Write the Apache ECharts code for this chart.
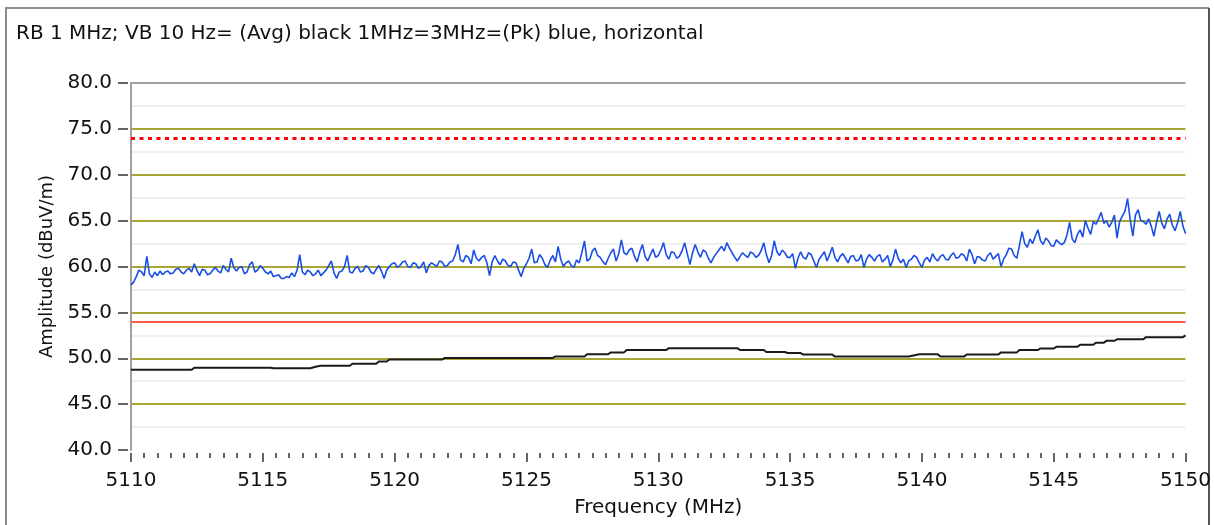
<!DOCTYPE html>
<html>
<head>
<meta charset="utf-8">
<title>RB 1 MHz; VB 10 Hz</title>
<script src="https://cdn.jsdelivr.net/npm/echarts@6/dist/echarts.min.js"></script>
<style>
  html, body { margin: 0; padding: 0; background: #ffffff; }
  #chart { width: 1214px; height: 525px; }
</style>
</head>
<body>
<div id="chart"></div>
<script>
// Plot title and axis names
const chartTitle = 'RB 1 MHz; VB 10 Hz= (Avg) black 1MHz=3MHz=(Pk) blue, horizontal';
const xName = 'Frequency (MHz)';
const yName = 'Amplitude (dBuV/m)';

// Axis ranges (MHz, dBuV/m)
const freqMin = 5110, freqMax = 5150, freqStep = 5;
const ampMin = 40, ampMax = 80, ampStep = 5;

// Limit lines: peak limit (dotted) and average limit (solid)
const peakLimit = 74;
const avgLimit = 54;

// Peak trace (blue), one reading every 0.1 MHz starting at 5110 MHz (one row per MHz)
const peakStart = 5110;
const peakSpacing = 0.1;
const peakValues = [
  58.0, 58.3, 58.9, 59.6, 59.4, 59.0, 61.1, 59.2, 58.8, 59.4,
  59.0, 59.5, 59.1, 59.4, 59.5, 59.2, 59.3, 59.7, 59.8, 59.4,
  59.2, 59.6, 59.8, 59.4, 60.3, 59.6, 59.0, 59.7, 59.6, 59.1,
  59.2, 59.6, 59.9, 59.5, 59.3, 60.1, 59.7, 59.4, 60.9, 59.9,
  59.5, 59.9, 60.0, 59.2, 59.4, 60.2, 60.5, 59.4, 59.6, 60.1,
  59.8, 59.4, 59.2, 59.5, 58.9, 59.0, 59.1, 58.7, 58.7, 58.9,
  58.8, 59.3, 58.9, 59.6, 61.3, 59.4, 59.1, 59.6, 59.4, 59.0,
  59.2, 59.6, 59.0, 59.3, 59.6, 60.1, 60.6, 59.3, 58.7, 59.4,
  59.5, 60.0, 61.2, 59.4, 59.3, 59.8, 60.0, 59.4, 59.5, 60.1,
  59.9, 59.4, 59.2, 59.7, 60.1, 59.5, 58.7, 59.6, 60.0, 60.3,
  60.4, 59.9, 60.1, 60.5, 60.6, 60.0, 59.9, 60.4, 60.3, 59.8,
  60.0, 60.5, 59.3, 60.1, 60.4, 60.2, 60.0, 60.6, 60.5, 60.0,
  60.1, 60.5, 60.6, 61.3, 62.4, 60.7, 60.5, 61.2, 61.0, 60.3,
  61.8, 60.9, 60.6, 61.0, 61.2, 60.4, 59.0, 60.5, 61.2, 60.6,
  60.2, 60.8, 60.6, 60.1, 60.0, 60.5, 60.4, 59.6, 58.9, 59.8,
  60.3, 60.9, 61.9, 60.4, 60.5, 61.3, 60.9, 60.2, 59.9, 60.7,
  61.2, 60.5, 62.2, 60.8, 60.0, 60.4, 60.6, 60.1, 59.9, 60.7,
  60.4, 61.5, 62.8, 60.6, 60.8, 61.7, 62.0, 61.2, 61.0, 60.5,
  60.2, 60.9, 61.5, 61.9, 60.6, 61.4, 62.9, 61.5, 61.3, 61.8,
  62.0, 61.1, 60.5, 61.6, 62.4, 61.1, 60.6, 61.3, 61.9, 61.0,
  61.2, 61.8, 62.6, 61.3, 60.8, 61.6, 61.5, 60.9, 61.1, 61.7,
  62.6, 61.4, 60.2, 61.5, 62.4, 61.6, 61.0, 61.8, 61.6, 60.9,
  60.4, 61.0, 61.4, 61.8, 62.2, 61.7, 62.6, 62.0, 61.5, 61.0,
  60.6, 61.1, 61.5, 61.2, 61.0, 61.6, 61.4, 61.0, 61.2, 61.7,
  62.6, 61.3, 60.4, 61.2, 62.8, 61.6, 61.2, 61.8, 61.5, 61.0,
  61.0, 61.4, 59.8, 60.9, 61.6, 61.0, 60.8, 61.5, 61.3, 60.6,
  59.9, 60.8, 61.2, 61.6, 60.6, 61.3, 62.1, 61.0, 60.5, 61.1,
  61.4, 60.9, 60.4, 61.1, 61.2, 60.6, 60.7, 61.3, 59.9, 60.8,
  61.3, 61.0, 60.6, 61.1, 61.3, 60.5, 60.8, 61.2, 60.0, 60.7,
  61.9, 60.9, 60.4, 60.8, 59.9, 60.6, 60.8, 61.2, 61.0, 60.4,
  59.9, 60.7, 61.0, 60.5, 61.4, 60.9, 60.6, 61.1, 61.3, 60.8,
  60.7, 61.2, 61.5, 60.9, 61.0, 61.4, 61.2, 60.6, 61.9, 61.3,
  60.3, 61.1, 61.0, 60.7, 60.6, 61.2, 61.5, 60.8, 61.1, 61.4,
  60.0, 60.8, 61.3, 62.0, 61.9, 61.2, 60.9, 62.3, 63.8, 62.5,
  62.1, 63.0, 62.5, 63.3, 64.0, 62.8, 62.4, 63.1, 62.8, 62.3,
  62.2, 62.9, 62.6, 62.4, 62.6, 63.4, 64.8, 63.0, 62.6, 63.5,
  64.0, 63.2, 65.0, 64.2, 63.5, 64.9, 64.6, 65.2, 65.9, 64.7,
  65.0, 64.3, 64.8, 65.6, 63.1, 64.9, 65.5, 66.0, 67.4, 65.1,
  63.3, 65.6, 66.2, 65.0, 64.9, 64.6, 65.2, 64.4, 63.3, 64.8,
  66.0, 64.7, 64.1, 65.2, 65.7, 64.5, 63.9, 64.8, 66.0, 64.4,
  63.6
];

// Average trace (black): frequency / level pairs
const avgFreq = [
  5110.0, 5112.3, 5112.4, 5115.3, 5115.4, 5116.8, 5117.0, 5117.2, 5118.3, 5118.4,
  5119.3, 5119.4, 5119.7, 5119.8, 5121.8, 5121.9, 5126.0, 5126.1, 5127.2, 5127.3,
  5128.1, 5128.2, 5128.7, 5128.8, 5130.3, 5130.4, 5133.0, 5133.1, 5134.0, 5134.1,
  5134.8, 5134.9, 5135.4, 5135.5, 5136.6, 5136.7, 5139.5, 5139.9, 5140.6, 5140.7,
  5141.6, 5141.7, 5142.9, 5143.0, 5143.6, 5143.7, 5144.4, 5144.5, 5145.0, 5145.1,
  5145.9, 5146.0, 5146.5, 5146.6, 5146.9, 5147.0, 5147.3, 5147.4, 5148.4, 5148.5,
  5149.9, 5150.0
];
const avgLevel = [
  48.75, 48.75, 48.96, 48.96, 48.92, 48.92, 49.07, 49.18, 49.18, 49.40,
  49.40, 49.64, 49.64, 49.86, 49.86, 50.04, 50.04, 50.20, 50.20, 50.43,
  50.43, 50.64, 50.64, 50.90, 50.90, 51.10, 51.10, 50.90, 50.90, 50.68,
  50.68, 50.57, 50.57, 50.40, 50.40, 50.18, 50.18, 50.43, 50.43, 50.18,
  50.18, 50.40, 50.40, 50.64, 50.64, 50.90, 50.90, 51.07, 51.07, 51.25,
  51.25, 51.46, 51.46, 51.70, 51.70, 51.90, 51.90, 52.07, 52.07, 52.30,
  52.30, 52.50
];

const peakData = peakValues.map((v, i) => [+(peakStart + i * peakSpacing).toFixed(2), v]);
const avgData = avgFreq.map((f, i) => [f, avgLevel[i]]);

const FONT = 'DejaVu Sans';
const OLIVE = '#aaa636';
const chart = echarts.init(document.getElementById('chart'), null, { renderer: 'canvas' });

chart.setOption({
  backgroundColor: '#ffffff',
  animation: false,
  title: {
    text: chartTitle,
    left: 11,
    top: 19,
    textStyle: { fontFamily: FONT, fontSize: 20, fontWeight: 'normal', color: '#111' }
  },
  graphic: [
    { type: 'polyline', shape: { points: [[6, 530], [6, 8], [1209, 8]] },
      style: { stroke: '#8c8c8c', lineWidth: 2, fill: null } },
    { type: 'line', shape: { x1: 1209, y1: 8, x2: 1209, y2: 530 },
      style: { stroke: '#555555', lineWidth: 2 } }
  ],
  grid: { left: 131, right: 28, top: 83, bottom: 75, containLabel: false },
  xAxis: {
    type: 'value',
    min: freqMin, max: freqMax, interval: freqStep,
    offset: 3,
    name: xName,
    nameLocation: 'middle',
    nameGap: 45,
    nameTextStyle: { fontFamily: FONT, fontSize: 20, color: '#111' },
    axisLine: { show: false },
    axisTick: { show: true, length: 9, lineStyle: { color: '#333', width: 1.5 } },
    minorTick: { show: true, splitNumber: 10, length: 5, lineStyle: { color: '#333', width: 1.5 } },
    splitLine: { show: false },
    axisLabel: { fontFamily: FONT, fontSize: 20, color: '#111', margin: 18, formatter: v => String(v) }
  },
  yAxis: [
    {
      type: 'value',
      min: ampMin, max: ampMax, interval: ampStep,
      offset: 3,
      name: yName,
      nameLocation: 'middle',
      nameGap: 72,
      nameTextStyle: { fontFamily: FONT, fontSize: 18, color: '#111' },
      axisLine: { show: false },
      axisTick: { show: true, length: 10, lineStyle: { color: '#333', width: 1.5 } },
      axisLabel: {
        fontFamily: FONT, fontSize: 20, color: '#111', margin: 16,
        formatter: v => v.toFixed(1)
      },
      splitLine: {
        show: true,
        lineStyle: {
          width: 2,
          color: ['rgba(0,0,0,0)', OLIVE, OLIVE, OLIVE, OLIVE, OLIVE, OLIVE, OLIVE, '#a0a0a0']
        }
      },
      minorTick: { show: false, splitNumber: 2 },
      minorSplitLine: { show: true, lineStyle: { color: '#efefef', width: 2 } }
    },
    {
      type: 'value',
      min: ampMin, max: ampMax, interval: ampStep,
      position: 'left',
      offset: 0,
      axisLine: { show: true, lineStyle: { color: '#a0a0a0', width: 2 } },
      axisTick: { show: false },
      axisLabel: { show: false },
      splitLine: { show: false }
    }
  ],
  series: [
    {
      name: 'Limits',
      type: 'line',
      data: [],
      silent: true,
      markLine: {
        silent: true,
        symbol: 'none',
        label: { show: false },
        data: [
          { yAxis: peakLimit, lineStyle: { color: '#ff0000', width: 3, type: [4, 4.5] } },
          { yAxis: avgLimit, lineStyle: { color: '#ff5a4a', width: 2, type: 'solid' } }
        ]
      }
    },
    {
      name: 'Avg',
      type: 'line',
      data: avgData,
      showSymbol: false,
      symbol: 'none',
      lineStyle: { color: '#1a1a1a', width: 2 },
      z: 3
    },
    {
      name: 'Pk',
      type: 'line',
      data: peakData,
      showSymbol: false,
      symbol: 'none',
      lineStyle: { color: '#1a4fe6', width: 1.6 },
      z: 4
    }
  ]
});
</script>
</body>
</html>
